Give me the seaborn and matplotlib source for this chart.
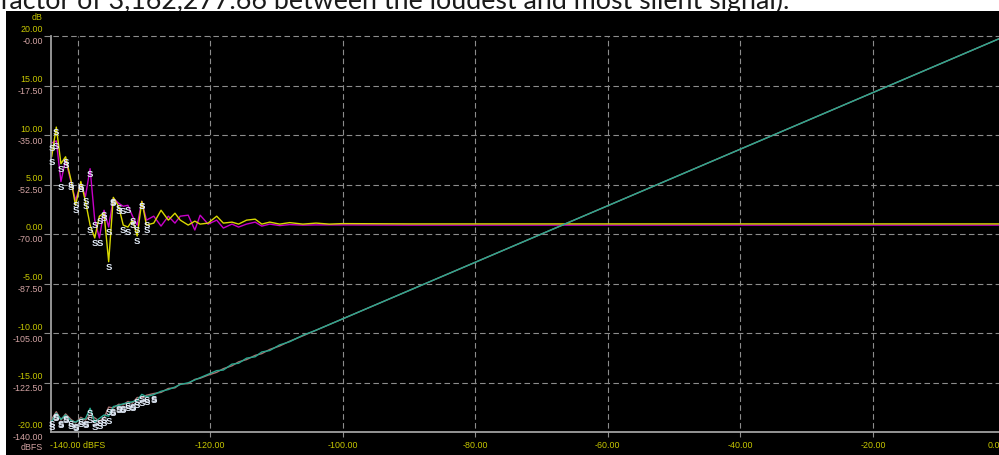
import matplotlib
matplotlib.use("Agg")
import matplotlib.pyplot as plt
import pandas as pd
import seaborn as sns
from matplotlib.patches import Rectangle

sns.set_theme(style="dark")
plt.rcParams["font.family"] = ["Liberation Sans", "DejaVu Sans"]

# ---- measurement data -------------------------------------------------------
# input level of the test tone (dBFS)
level_dbfs = [-143.9, -143.2, -142.5, -141.8, -141.0, -140.3, -139.5, -138.8,
              -138.1, -137.4, -136.7, -136.0, -135.3, -134.6, -133.8, -133.1,
              -132.4, -131.7, -131.0, -130.3, -129.6, -128.5, -127.4, -126.3,
              -125.3, -124.5, -123.3, -122.3, -121.5, -120.3, -119.0, -118.0,
              -116.7, -115.7, -114.5, -113.2, -112.2, -111.0, -109.5, -108.0,
              -106.0, -104.0, -102.0, -100.0, -90.0, -80.0, -70.0, -60.0,
              -50.0, -40.0, -30.0, -20.0, -10.0, 0.0]

# level deviation, left / right channel (dB, left scale)
gain_left_db = [7.8, 10.8, 7.1, 7.8, 5.5, 2.9, 5.3, 3.3, 0.9, -0.4, 1.8, 2.1,
                -2.8, 3.7, 2.8, 0.9, 0.7, 1.4, -0.2, 3.3, 0.9, 1.1, 2.4, 1.4,
                2.1, 1.4, 0.9, 1.3, 1.0, 1.1, 1.8, 1.1, 1.2, 1.0, 1.4, 1.5,
                1.0, 1.2, 1.0, 1.15, 1.0, 1.1, 1.0, 1.05, 1.02, 1.02, 1.02,
                1.02, 1.02, 1.02, 1.02, 1.02, 1.02, 1.02]
gain_right_db = [9.2, 9.4, 5.3, 7.5, 5.3, 3.4, 5.1, 3.8, 6.6, 1.4, -0.4, 2.4,
                 0.7, 3.6, 3.1, 2.8, 2.9, 1.8, 0.9, 3.3, 1.4, 1.8, 0.8, 1.8,
                 1.1, 1.8, 1.9, 0.4, 1.9, 1.0, 1.4, 0.6, 1.0, 0.7, 1.0, 1.2,
                 0.8, 1.0, 0.85, 0.95, 0.9, 0.92, 0.92, 0.92, 0.9, 0.9, 0.9,
                 0.9, 0.9, 0.9, 0.9, 0.9, 0.9, 0.9]

# measured output level, left / right channel (dBFS, inner scale)
out_left_dbfs = [-136.3, -133.4, -135.5, -134.0, -136.0, -136.5, -135.5,
                 -135.3, -131.6, -136.5, -135.2, -134.0, -134.4, -131.0,
                 -130.6, -130.0, -129.7, -129.3, -128.8, -126.7, -127.5,
                 -126.8, -125.6, -125.0, -124.1, -123.2, -122.6, -121.6,
                 -120.8, -119.6, -118.3, -118.1, -116.0, -115.7, -113.9,
                 -113.4, -111.7, -111.2, -109.2, -108.1, -105.8, -104.0,
                 -102.0, -100.0, -90.0, -80.0, -70.0, -60.0, -50.0, -40.0,
                 -30.0, -20.0, -10.0, 0.0]
out_right_dbfs = [-135.5, -132.8, -135.8, -133.6, -135.5, -136.8, -134.8,
                  -135.8, -134.0, -135.0, -136.2, -135.0, -131.2, -131.5,
                  -130.2, -130.4, -129.2, -129.8, -127.8, -127.9, -127.0,
                  -126.4, -126.0, -124.6, -124.4, -123.0, -122.9, -121.4,
                  -121.0, -119.9, -118.9, -117.6, -116.6, -115.2, -114.4,
                  -112.9, -112.3, -110.8, -109.6, -107.9, -106.0, -104.0,
                  -102.0, -100.0, -90.0, -80.0, -70.0, -60.0, -50.0, -40.0,
                  -30.0, -20.0, -10.0, 0.0]

# points below these input levels are flagged with an "S"
flag_gain_upto = -129.6
flag_out_upto = -128.5

db_ticks = [20, 15, 10, 5, 0, -5, -10, -15, -20]
db_labels = ["20.00", "15.00", "10.00", "5.00", "0.00", "-5.00", "-10.00",
             "-15.00", "-20.00"]
dbfs_labels = ["-0.00", "-17.50", "-35.00", "-52.50", "-70.00", "-87.50",
               "-105.00", "-122.50", "-140.00"]
x_ticks = [-140, -120, -100, -80, -60, -40, -20, 0]
x_labels = ["-140.00 dBFS", "-120.00", "-100.00", "-80.00", "-60.00",
            "-40.00", "-20.00", "0.00"]
caption = "factor of 3,162,277.66 between the loudest and most silent signal)."

df = pd.DataFrame({
    "level": level_dbfs,
    "gain_l": gain_left_db,
    "gain_r": gain_right_db,
    "out_l": out_left_dbfs,
    "out_r": out_right_dbfs,
})

# ---- styling ----------------------------------------------------------------
W, H = 999, 455
YELLOW_TXT = "#c8c800"
PINK_TXT = "#d4a4a4"
GRID = "#8c8c8c"
AXIS = "#a0a0a0"
FS = 6.4

fig = plt.figure(figsize=(W / 100, H / 100), dpi=100, facecolor="white")

fig.text(0.0, 1 - 9 / H, caption, fontsize=19.3, family=["Lato", "DejaVu Sans"],
         color="#1a1a1a", va="baseline", ha="left", zorder=0.1)
fig.add_artist(Rectangle((6 / W, 0), (W - 6) / W, (H - 11) / H,
                         transform=fig.transFigure, facecolor="black",
                         edgecolor="none", zorder=0.2))

left_px, right_px, top_px, bot_px = 51, 1005.5, 36, 432
ax = fig.add_axes([left_px / W, (H - bot_px) / H,
                   (right_px - left_px) / W, (bot_px - top_px) / H])
ax.set_zorder(1)
ax.set_facecolor("none")
ax.set_xlim(-144, 0)
ax.set_ylim(-20, 20)

ax2 = ax.twinx()
ax2.set_zorder(2)
ax2.set_ylim(-140, 0)
ax2.set_facecolor("none")

for a in (ax, ax2):
    a.set_xticks([])
    a.set_yticks([])
    for s in a.spines.values():
        s.set_visible(False)
for s in ("left", "bottom"):
    ax.spines[s].set_visible(True)
    ax.spines[s].set_color(AXIS)
    ax.spines[s].set_linewidth(1.3)

# grid
for t in db_ticks[:-1]:
    ax.axhline(t, xmin=-7 / (right_px - left_px), xmax=1, color=GRID,
               lw=0.8, ls=(0, (5, 3)), clip_on=False, zorder=0.5)
for t in x_ticks[:-1]:
    ax.axvline(t, ymin=-5 / (bot_px - top_px), ymax=1, color=GRID,
               lw=0.8, ls=(0, (5, 3)), clip_on=False, zorder=0.5)

# curves
sns.lineplot(data=df, x="level", y="gain_r", ax=ax, color="#c800c8",
             lw=1.0, sort=False, estimator=None)
sns.lineplot(data=df, x="level", y="gain_l", ax=ax, color="#d8d800",
             lw=1.0, sort=False, estimator=None)
sns.lineplot(data=df, x="level", y="out_r", ax=ax2, color="#a87474",
             lw=1.0, sort=False, estimator=None)
sns.lineplot(data=df, x="level", y="out_l", ax=ax2, color="#2aa890",
             lw=1.0, sort=False, estimator=None)
for a in (ax, ax2):
    a.set_xlabel("")
    a.set_ylabel("")
ax2.set_yticks([])


def flag(a, xs, ys, limit):
    """Mark flagged measurement points with an 'S'."""
    for xv, yv in zip(xs, ys):
        if xv <= limit:
            a.annotate("S", xy=(xv, yv), xytext=(0, -1),
                       textcoords="offset pixels", ha="center", va="top",
                       fontsize=6.8, fontweight="bold", color="#e2ebf8",
                       zorder=5)


flag(ax, level_dbfs, gain_right_db, flag_gain_upto)
flag(ax, level_dbfs, gain_left_db, flag_gain_upto)
flag(ax2, level_dbfs, out_right_dbfs, flag_out_upto)
flag(ax2, level_dbfs, out_left_dbfs, flag_out_upto)

# scale labels: dB (yellow) above each grid line, dBFS (pink) below
ytr = ax.get_yaxis_transform()
for t, lab_db, lab_fs in zip(db_ticks, db_labels, dbfs_labels):
    ax.annotate(lab_db, xy=(0, t), xycoords=ytr, xytext=(-8, 6),
                textcoords="offset pixels", ha="right", va="center",
                fontsize=FS, color=YELLOW_TXT, annotation_clip=False)
    ax.annotate(lab_fs, xy=(0, t), xycoords=ytr, xytext=(-8, -6),
                textcoords="offset pixels", ha="right", va="center",
                fontsize=FS, color=PINK_TXT, annotation_clip=False)
ax.annotate("dB", xy=(0, db_ticks[0]), xycoords=ytr, xytext=(-8, 18),
            textcoords="offset pixels", ha="right", va="center",
            fontsize=FS, color=YELLOW_TXT, annotation_clip=False)
ax.annotate("dBFS", xy=(0, db_ticks[-1]), xycoords=ytr, xytext=(-8, -16),
            textcoords="offset pixels", ha="right", va="center",
            fontsize=FS, color=PINK_TXT, annotation_clip=False)

xtr = ax.get_xaxis_transform()
for i, (t, lab) in enumerate(zip(x_ticks, x_labels)):
    ha = "right" if i == len(x_ticks) - 1 else "center"
    ax.annotate(lab, xy=(t, 0), xycoords=xtr, xytext=(0, -13),
                textcoords="offset pixels", ha=ha, va="center",
                fontsize=FS, color=YELLOW_TXT, annotation_clip=False)

fig.savefig("out.png", dpi=100, facecolor="white")
